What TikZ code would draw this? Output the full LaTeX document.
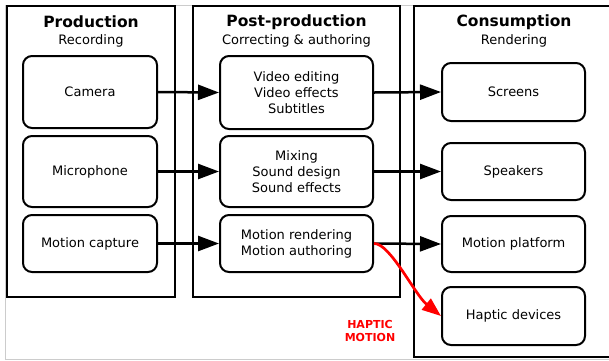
\documentclass[tikz,border=0pt]{standalone}
\usepackage{fontspec}
\setmainfont{DejaVu Sans}
\usetikzlibrary{arrows.meta}
\begin{document}
\begin{tikzpicture}[x=1pt,y=-1pt,
  outerbox/.style={draw,line width=2pt},
  itembox/.style={draw,line width=2pt,rounded corners=9pt,align=center,
    inner sep=0pt,font=\fontsize{13}{16}\selectfont},
  title/.style={font=\bfseries\fontsize{15.5}{18}\selectfont,inner sep=0pt},
  subtitle/.style={font=\fontsize{13}{16}\selectfont,inner sep=0pt},
  flow/.style={line width=2.5pt,-{Triangle[length=21pt,width=15pt]}},
  haptic/.style={line width=2.7pt,red,-{Triangle[length=19pt,width=14pt]}}]
\useasboundingbox (0,0) rectangle (609,360);
\draw[black!20,line width=1pt] (5,5) rectangle (611,359);
% outer columns
\draw[outerbox] (7,6) rectangle (175,297);
\draw[outerbox] (193,6) rectangle (400,297);
\draw[outerbox] (414,6) rectangle (614,357);
% titles
\node[title] (tprod) at (91,22) {Production};
\node[subtitle] (sprod) at (91,41) {Recording};
\node[title] (tpost) at (296.5,22) {Post-production};
\node[subtitle] (spost) at (296.5,41) {Correcting \& authoring};
\node[title] (tcons) at (514,22) {Consumption};
\node[subtitle] (scons) at (514,41) {Rendering};
% production
\node[itembox,minimum width=134pt,minimum height=72pt] (cam) at (90,92) {Camera};
\node[itembox,minimum width=134pt,minimum height=71pt] (mic) at (90,171.5) {Microphone};
\node[itembox,minimum width=134pt,minimum height=57pt] (mocap) at (90,243.5) {Motion capture};
% post-production
\node[itembox,minimum width=153pt,minimum height=73pt] (video) at (296.5,92.5) {Video editing\\Video effects\\Subtitles};
\node[itembox,minimum width=153pt,minimum height=71pt] (mix) at (296.5,171.5) {Mixing\\Sound design\\Sound effects};
\node[itembox,minimum width=153pt,minimum height=57pt] (morend) at (296.5,243.5) {Motion rendering\\Motion authoring};
% consumption
\node[itembox,minimum width=143pt,minimum height=58pt] (screens) at (513.5,92) {Screens};
\node[itembox,minimum width=143pt,minimum height=57pt] (speak) at (513.5,171.5) {Speakers};
\node[itembox,minimum width=143pt,minimum height=56pt] (plat) at (513.5,244) {Motion platform};
\node[itembox,minimum width=143pt,minimum height=58pt] (hapt) at (513.5,316) {Haptic devices};
% arrows
\draw[flow] (cam.east) -- (video.west);
\draw[flow] (mic.east) -- (mix.west);
\draw[flow] (mocap.east) -- (morend.west);
\draw[flow] (video.east) -- (screens.west);
\draw[flow] (mix.east) -- (speak.west);
\draw[flow] (morend.east) -- (plat.west);
\draw[haptic] (morend.east) .. controls (390,243) and (415,295) .. (hapt.west);
\node[text=red,font=\bfseries\fontsize{11}{13}\selectfont,align=center,inner sep=0pt] (hlabel) at (370,330.5) {HAPTIC\\MOTION};
\end{tikzpicture}
\end{document}
